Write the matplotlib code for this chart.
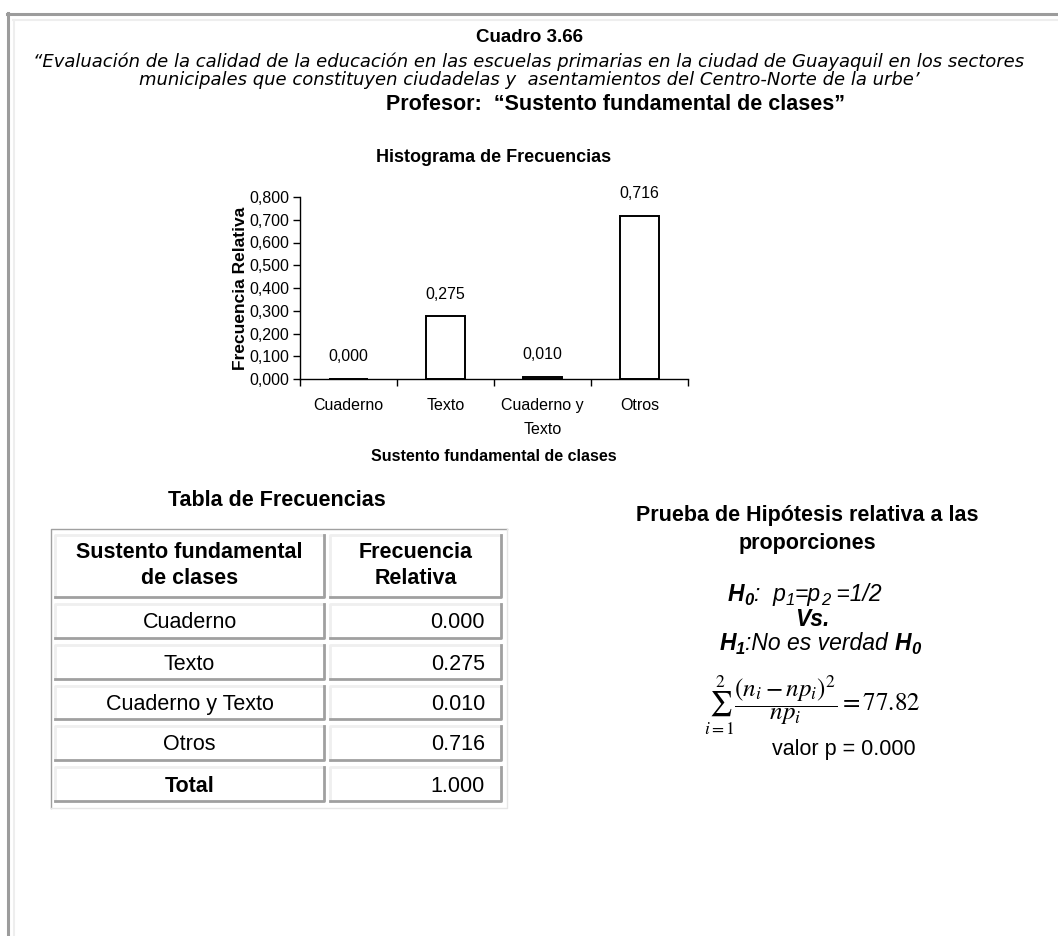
import matplotlib
matplotlib.use("Agg")
import matplotlib.pyplot as plt
from matplotlib.lines import Line2D
from matplotlib.ticker import FuncFormatter, FixedLocator

# Datos
categorias = ["Cuaderno", "Texto", "Cuaderno y\nTexto", "Otros"]
frecuencia = [0.000, 0.275, 0.010, 0.716]

filas_tabla = ["Cuaderno", "Texto", "Cuaderno y Texto", "Otros", "Total"]
valores_tabla = [0.000, 0.275, 0.010, 0.716, 1.000]

estadistico = 77.82
valor_p = 0.000

plt.rcParams["font.family"] = ["Liberation Sans", "DejaVu Sans"]

W, H = 1058, 936
fig = plt.figure(figsize=(W / 100, H / 100), dpi=100, facecolor="white")

# Capa de fondo en coordenadas de pixel
bg = fig.add_axes([0, 0, 1, 1])
bg.set_xlim(0, W)
bg.set_ylim(H, 0)
bg.axis("off")

# Marco de la pagina
bg.add_line(Line2D([7.5, 7.5], [13, H], color="#9c9c9c", lw=2.2))
bg.add_line(Line2D([7, W], [13.5, 13.5], color="#9c9c9c", lw=2.2))
bg.add_line(Line2D([13.5, 13.5], [19.5, H], color="#eeeeee", lw=1.5))
bg.add_line(Line2D([13, W], [19.5, 19.5], color="#eeeeee", lw=1.5))

# Titulos
bg.text(529, 38, "Cuadro 3.66", ha="center", va="center", fontsize=13.5, fontweight="bold")
bg.text(529, 71, "“Evaluación de la calidad de la educación en las escuelas primarias en la ciudad de Guayaquil en los sectores\n"
        "municipales que constituyen ciudadelas y  asentamientos del Centro-Norte de la urbe’",
        ha="center", va="center", fontsize=13, style="italic", family="DejaVu Sans", linespacing=1.02)
bg.text(615, 105, "Profesor:  “Sustento fundamental de clases”", ha="center", va="center",
        fontsize=15.5, fontweight="bold")
bg.text(494, 158, "Histograma de Frecuencias", ha="center", va="center", fontsize=13, fontweight="bold")

# Histograma
ax = fig.add_axes([300 / W, 1 - 379 / H, (688 - 300) / W, (379 - 197) / H])
x = list(range(len(categorias)))
ax.bar(x, frecuencia, width=0.4, color="white", edgecolor="black", linewidth=1.4)
for xi, v in zip(x, frecuencia):
    ax.annotate(f"{v:.3f}".replace(".", ","), xy=(xi, v), xytext=(0, 16),
                textcoords="offset points", ha="center", va="center", fontsize=11.5)
ax.set_xlim(-0.5, len(categorias) - 0.5)
ax.set_ylim(0, 0.8)
ax.set_yticks([i / 10 for i in range(9)])
ax.yaxis.set_major_formatter(FuncFormatter(lambda v, p: f"{v:.3f}".replace(".", ",")))
ax.set_xticks(x)
ax.set_xticklabels(categorias, fontsize=11.5, linespacing=1.75, va="top")
ax.xaxis.set_minor_locator(FixedLocator([i - 0.5 for i in range(len(categorias) + 1)]))
ax.tick_params(axis="x", which="major", length=0, pad=14)
ax.tick_params(axis="x", which="minor", length=5, direction="out", width=1)
ax.tick_params(axis="y", length=5, direction="out", width=1, labelsize=11.5, pad=3)
for s in ["top", "right"]:
    ax.spines[s].set_visible(False)
for s in ["left", "bottom"]:
    ax.spines[s].set_linewidth(1)
ax.set_ylabel("Frecuencia Relativa", fontsize=12.5, fontweight="bold", labelpad=1)
ax.set_xlabel("Sustento fundamental de clases", fontsize=11.5, fontweight="bold", labelpad=8)
ax.set_facecolor("none")

# Tabla de frecuencias
bg.text(277, 500, "Tabla de Frecuencias", ha="center", va="center", fontsize=15.5, fontweight="bold")

claro, oscuro = "#efefef", "#a0a0a0"
# marco externo
bg.add_line(Line2D([50.5, 50.5, 507], [808, 528.5, 528.5], color=oscuro, lw=1))
bg.add_line(Line2D([50.5, 507, 507], [808, 808, 528.5], color="#e6e6e6", lw=1))


def celda(x0, y0, x1, y1):
    bg.add_line(Line2D([x0, x0, x1], [y1, y0, y0], color=claro, lw=2))
    bg.add_line(Line2D([x0, x1, x1], [y1, y1, y0], color=oscuro, lw=2))


col1 = (55, 324)
col2 = (330, 501)
filas_y = [(604, 638), (645, 679), (686, 719), (726, 760), (767, 801)]

celda(col1[0], 535, col1[1], 597)
celda(col2[0], 535, col2[1], 597)
for txt, xc in [("Sustento fundamental", sum(col1) / 2), ("Frecuencia", sum(col2) / 2)]:
    bg.text(xc, 553, txt, ha="center", va="center", fontsize=15.5, fontweight="bold")
for txt, xc in [("de clases", sum(col1) / 2), ("Relativa", sum(col2) / 2)]:
    bg.text(xc, 578, txt, ha="center", va="center", fontsize=15.5, fontweight="bold")

for nombre, valor, (y0, y1) in zip(filas_tabla, valores_tabla, filas_y):
    celda(col1[0], y0, col1[1], y1)
    celda(col2[0], y0, col2[1], y1)
    yc = (y0 + y1) / 2 + 2
    bg.text(sum(col1) / 2, yc, nombre, ha="center", va="center", fontsize=15.5,
            fontweight="bold" if nombre == "Total" else "normal")
    bg.text(485, yc, f"{valor:.3f}", ha="right", va="center", fontsize=15.5)

# Prueba de hipotesis
bg.text(807, 515, "Prueba de Hipótesis relativa a las", ha="center", va="center",
        fontsize=15.5, fontweight="bold")
bg.text(807, 543, "proporciones", ha="center", va="center", fontsize=15.5, fontweight="bold")


def linea(y, piezas):
    textos = []
    primero = None
    for s, size, weight, dy in piezas:
        if primero is None:
            t = bg.text(0, y, s, ha="left", va="baseline", fontsize=size, fontweight=weight, style="italic")
            primero = t
        else:
            t = bg.annotate(s, xy=(1, 0), xycoords=(textos[-1], primero), xytext=(0, dy),
                            textcoords="offset points", ha="left", va="bottom",
                            fontsize=size, fontweight=weight, style="italic")
        textos.append(t)
    return textos


lineas = [
    (805, 601, [("H", 16.5, "bold", 0), ("0", 12, "bold", -1.5), (":  p", 16.5, "normal", 0), ("1", 12, "normal", -1.5),
                ("=p", 16.5, "normal", 0), ("2", 12, "normal", -1.5), (" =1/2", 16.5, "normal", 0)]),
    (812, 626, [("Vs.", 16.5, "bold", 0)]),
    (820, 650, [("H", 16.5, "bold", 0), ("1", 12, "bold", -1.5), (":No es verdad ", 16.5, "normal", 0),
                ("H", 16.5, "bold", 0), ("0", 12, "bold", -1.5)]),
]
grupos = [(xc, linea(y, p)) for xc, y, p in lineas]

bg.text(812, 706, r"$\sum_{i=1}^{2}\dfrac{(n_i-np_i)^2}{np_i}=%.2f$" % estadistico, ha="center", va="center",
        fontsize=18, math_fontfamily="stix")
bg.text(844, 750, f"valor p = {valor_p:.3f}", ha="center", va="center", fontsize=15.5)

# centrar las lineas compuestas
fig.canvas.draw()
r = fig.canvas.get_renderer()
for xc, textos in grupos:
    x0 = textos[0].get_window_extent(r).x0
    x1 = textos[-1].get_window_extent(r).x1
    textos[0].set_x(xc - (x1 - x0) / 2)

fig.savefig("out.png", dpi=100, facecolor="white")
